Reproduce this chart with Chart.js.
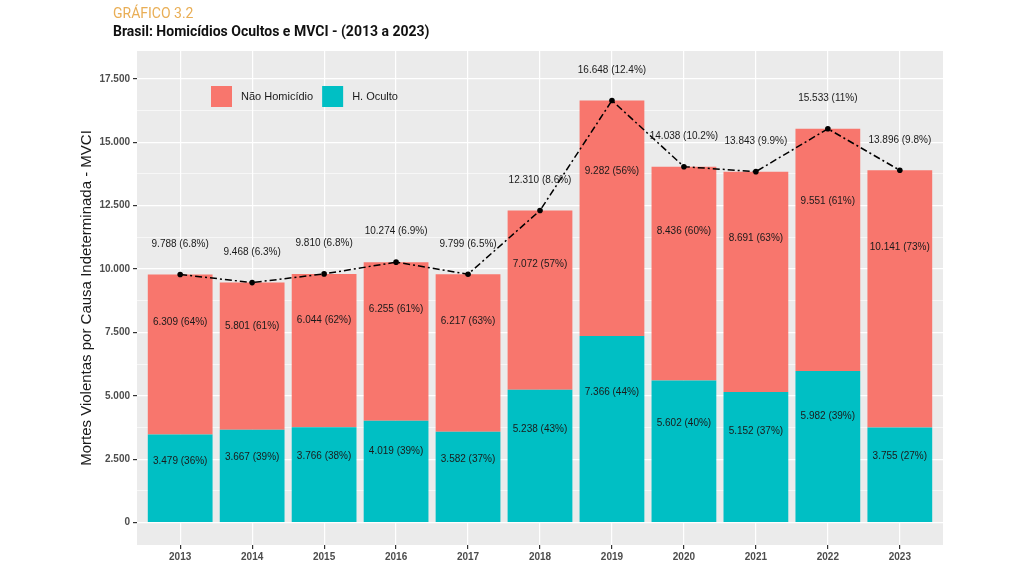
<!DOCTYPE html>
<html>
<head>
<meta charset="utf-8">
<script src="https://cdn.jsdelivr.net/npm/chart.js@4.4.1/dist/chart.umd.min.js"></script>
<style>
  html, body { margin: 0; padding: 0; background: #ffffff; }
  #wrap { position: relative; width: 1024px; height: 572px; overflow: hidden; }
  #grafico { position: absolute; left: 113px; top: 5px; font: 14px "Roboto", sans-serif; color: #E9AE55; }
  #titulo { position: absolute; left: 113px; top: 23px; font: bold 14px "Roboto", sans-serif; color: #111111; }
  #historial { position: absolute; left: 0; top: 0; }
</style>
</head>
<body>
<div id="wrap">
  <canvas id="historial" width="1024" height="572"></canvas>
  <div id="grafico">GRÁFICO 3.2</div>
  <div id="titulo">Brasil: Homicídios Ocultos e MVCI - (2013 a 2023)</div>
</div>
<script>
const anos = [2013, 2014, 2015, 2016, 2017, 2018, 2019, 2020, 2021, 2022, 2023];
const hOculto = [3479, 3667, 3766, 4019, 3582, 5238, 7366, 5602, 5152, 5982, 3755];
const hOcultoPct = [36, 39, 38, 39, 37, 43, 44, 40, 37, 39, 27];
const naoHomicidio = [6309, 5801, 6044, 6255, 6217, 7072, 9282, 8436, 8691, 9551, 10141];
const naoHomicidioPct = [64, 61, 62, 61, 63, 57, 56, 60, 63, 61, 73];
const mvci = [9788, 9468, 9810, 10274, 9799, 12310, 16648, 14038, 13843, 15533, 13896];
const mvciPct = ["6.8", "6.3", "6.8", "6.9", "6.5", "8.6", "12.4", "10.2", "9.9", "11", "9.8"];
const yTicks = [0, 1250, 2500, 3750, 5000, 6250, 7500, 8750, 10000, 11250, 12500, 13750, 15000, 16250, 17500];

const ctx = document.getElementById("historial");

function milhar(v) {
  return String(v).replace(/\B(?=(\d{3})+(?!\d))/g, ".");
}

// rotulos de cada barra e do total (posicao pelo proprio eixo)
const rotulos = {
  id: "rotulos",
  afterDatasetsDraw(chart) {
    const c = chart.ctx;
    const x = chart.scales.x;
    const y = chart.scales.y;
    c.save();
    c.font = "10px 'Liberation Sans', Arial, sans-serif";
    c.fillStyle = "#1a1a1a";
    c.textAlign = "center";
    c.textBaseline = "middle";
    anos.forEach((ano, i) => {
      const px = x.getPixelForValue(ano);
      c.fillText(`${milhar(hOculto[i])} (${hOcultoPct[i]}%)`, px, y.getPixelForValue(hOculto[i] * 0.7));
      c.fillText(`${milhar(naoHomicidio[i])} (${naoHomicidioPct[i]}%)`, px, y.getPixelForValue(hOculto[i] + naoHomicidio[i] * 0.7));
      c.fillText(`${milhar(mvci[i])} (${mvciPct[i]}%)`, px, y.getPixelForValue(mvci[i] + 1200));
    });
    c.restore();
  }
};

// legenda dentro do painel, como no ggplot
const legenda = {
  id: "legenda",
  afterDraw(chart) {
    const c = chart.ctx;
    const area = chart.chartArea;
    const itens = [chart.data.datasets[1], chart.data.datasets[0]];
    let px = area.left + 74;
    const py = area.top + 45;
    c.save();
    c.font = "11px 'Liberation Sans', Arial, sans-serif";
    c.textBaseline = "middle";
    itens.forEach(ds => {
      c.fillStyle = ds.backgroundColor;
      c.fillRect(px, py - 10, 21, 21);
      c.fillStyle = "#1a1a1a";
      c.fillText(ds.label, px + 30, py + 1);
      px += 30 + c.measureText(ds.label).width + 9;
    });
    c.restore();
  }
};

new Chart(ctx, {
  data: {
    labels: anos,
    datasets: [
      {
        type: "bar",
        label: "H. Oculto",
        data: hOculto,
        backgroundColor: "#00BFC4",
        stack: "mvci",
        order: 2,
        categoryPercentage: 1,
        barPercentage: 0.9
      },
      {
        type: "bar",
        label: "Não Homicídio",
        data: naoHomicidio,
        backgroundColor: "#F8766D",
        stack: "mvci",
        order: 2,
        categoryPercentage: 1,
        barPercentage: 0.9
      },
      {
        type: "line",
        label: "MVCI",
        data: mvci,
        stack: "total",
        order: 1,
        borderColor: "#000000",
        borderWidth: 1.5,
        borderDash: [7, 3, 2, 3],
        pointRadius: 2.8,
        pointBackgroundColor: "#000000",
        pointBorderColor: "#000000",
        pointBorderWidth: 0,
        tension: 0
      }
    ]
  },
  options: {
    responsive: false,
    animation: false,
    layout: { padding: { left: 74, right: 81, top: 51, bottom: 0 } },
    plugins: {
      legend: { display: false },
      tooltip: { enabled: false }
    },
    scales: {
      x: {
        type: "linear",
        min: 2012.4,
        max: 2023.6,
        offset: false,
        afterBuildTicks: s => { s.ticks = anos.map(v => ({ value: v })); },
        afterFit: s => { s.height = 27; },
        ticks: {
          color: "#4D4D4D",
          padding: 2,
          maxRotation: 0,
          font: { size: 10, weight: "bold", family: "'Liberation Sans', Arial, sans-serif" },
          callback: v => String(v)
        },
        grid: {
          offset: false,
          color: "#ffffff",
          lineWidth: 1.2,
          tickColor: "#333333",
          tickLength: 4
        },
        border: { display: false }
      },
      y: {
        stacked: true,
        min: -880,
        max: 18600,
        afterBuildTicks: s => { s.ticks = yTicks.map(v => ({ value: v })); },
        afterFit: s => { s.width = 63; },
        ticks: {
          color: "#4D4D4D",
          padding: 3,
          font: { size: 10, weight: "bold", family: "'Liberation Sans', Arial, sans-serif" },
          callback: v => (v % 2500 === 0 ? milhar(v) : "")
        },
        grid: {
          color: "#ffffff",
          lineWidth: c => (c.tick && c.tick.value % 2500 === 0 ? 1.2 : 0.6),
          tickColor: c => (c.tick && c.tick.value % 2500 === 0 ? "#333333" : "rgba(0,0,0,0)"),
          tickLength: 4
        },
        border: { display: false },
        title: {
          display: true,
          text: "Mortes Violentas por Causa Indeterminada - MVCI",
          color: "#1a1a1a",
          padding: { top: 4, bottom: 0 },
          font: { size: 15, family: "'Liberation Sans', Arial, sans-serif" }
        }
      }
    }
  },
  plugins: [
    {
      id: "painel",
      beforeDraw(chart) {
        const a = chart.chartArea;
        chart.ctx.save();
        chart.ctx.fillStyle = "#EBEBEB";
        chart.ctx.fillRect(a.left, a.top, a.right - a.left, a.bottom - a.top);
        chart.ctx.restore();
      }
    },
    rotulos,
    legenda
  ]
});
</script>
</body>
</html>
